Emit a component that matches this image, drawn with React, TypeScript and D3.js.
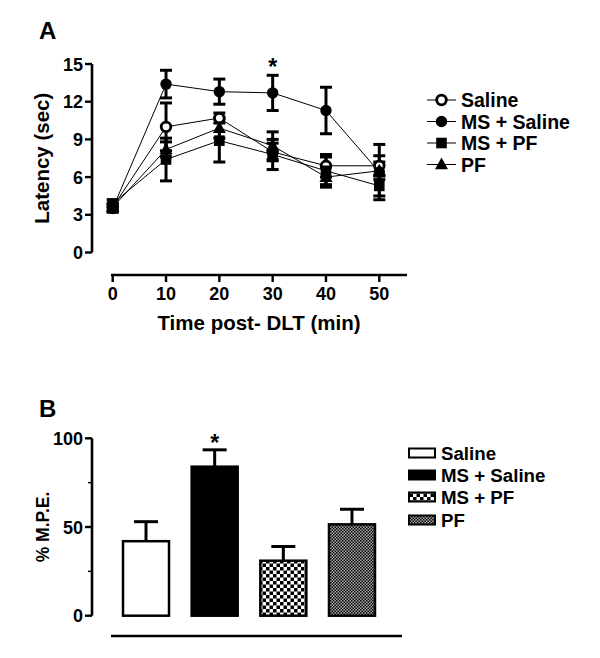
import React from "react";
import * as d3 from "d3";

const times = [0, 10, 20, 30, 40, 50];
const seriesNames = ["Saline", "MS + Saline", "MS + PF", "PF"];
const salineVals = [3.6, 10.0, 10.7, 8.0, 6.9, 6.9];
const salineErr = [0.3, 1.9, 0.4, 0.7, 0.9, 0.8];
const msSalineVals = [3.5, 13.4, 12.8, 12.7, 11.3, 6.4];
const msSalineErr = [0.3, 1.1, 1.0, 1.4, 1.85, 2.2];
const msPfVals = [3.9, 7.4, 8.9, 7.8, 6.5, 5.3];
const msPfErr = [0.3, 1.7, 1.7, 1.2, 1.1, 0.8];
const pfVals = [3.6, 8.2, 9.9, 8.5, 6.0, 6.5];
const pfErr = [0.3, 0.6, 0.8, 1.1, 0.8, 0.7];
const yTicksA = [0, 3, 6, 9, 12, 15];
const xTicksA = [0, 10, 20, 30, 40, 50];

const barGroups = ["Saline", "MS + Saline", "MS + PF", "PF"];
const mpeVals = [42, 84, 31, 51.5];
const mpeErr = [11, 9.5, 8, 8.5];
const yTicksB = [0, 50, 100];
const yMinorB = [25, 75];

const FONT = "'Liberation Sans', Arial, sans-serif";

const seriesA = [
  { name: seriesNames[0], vals: salineVals, err: salineErr, marker: "open" },
  { name: seriesNames[1], vals: msSalineVals, err: msSalineErr, marker: "circle" },
  { name: seriesNames[2], vals: msPfVals, err: msPfErr, marker: "square" },
  { name: seriesNames[3], vals: pfVals, err: pfErr, marker: "triangle" },
];

function Marker({ type, x, y }: { type: string; x: number; y: number }) {
  if (type === "open")
    return <circle cx={x} cy={y} r={4.8} fill="white" stroke="black" strokeWidth={2.8} />;
  if (type === "circle") return <circle cx={x} cy={y} r={5.7} fill="black" />;
  if (type === "square") return <rect x={x - 5.3} y={y - 5.3} width={10.6} height={10.6} fill="black" />;
  return <path d={`M${x},${y - 7}L${x + 6.5},${y + 4.8}L${x - 6.5},${y + 4.8}Z`} fill="black" />;
}

export default function App() {
  const xA = d3.scaleLinear().domain([0, 50]).range([112.7, 379.3]);
  const yA = d3.scaleLinear().domain([0, 15]).range([252.5, 64]);
  const line = d3
    .line<number>()
    .x((_, i) => xA(times[i]))
    .y((d) => yA(d));

  const xB = d3
    .scaleBand<string>()
    .domain(barGroups)
    .range([111, 387])
    .paddingInner(0.33)
    .paddingOuter(0.175);
  const yB = d3.scaleLinear().domain([0, 100]).range([615.7, 438.3]);

  const legendAY = [100, 121.5, 143, 164.5];
  const legendBY = [453, 475, 497, 520];
  const fills = ["white", "black", "url(#checker)", "url(#fine)"];

  return (
    <svg
      width={600}
      height={658}
      style={{ position: "absolute", left: 0, top: 0, background: "white" }}
      fontFamily={FONT}
      fontWeight="bold"
    >
      <defs>
        <pattern id="checker" width={7} height={7} patternUnits="userSpaceOnUse">
          <rect width={7} height={7} fill="white" />
          <rect width={3.5} height={3.5} fill="black" />
          <rect x={3.5} y={3.5} width={3.5} height={3.5} fill="black" />
        </pattern>
        <pattern id="fine" width={3} height={3} patternUnits="userSpaceOnUse">
          <rect width={3} height={3} fill="#aaa" />
          <rect width={1.5} height={1.5} fill="black" />
          <rect x={1.5} y={1.5} width={1.5} height={1.5} fill="black" />
        </pattern>
      </defs>

      {/* Panel A */}
      <text x={39} y={39} fontSize={24}>A</text>
      <line x1={92} x2={92} y1={yA(15)} y2={yA(0)} stroke="black" strokeWidth={2.6} />
      {yTicksA.map((t) => (
        <g key={t}>
          <line x1={85} x2={92} y1={yA(t)} y2={yA(t)} stroke="black" strokeWidth={2.4} />
          <text x={83} y={yA(t) + 6.5} fontSize={18} textAnchor="end">{t}</text>
        </g>
      ))}
      <text
        transform={`translate(49,${(yA(0) + yA(15)) / 2}) rotate(-90)`}
        fontSize={20.5}
        textAnchor="middle"
      >
        Latency (sec)
      </text>
      <line x1={111} x2={407} y1={275} y2={275} stroke="black" strokeWidth={2.6} />
      {xTicksA.map((t) => (
        <g key={t}>
          <line x1={xA(t)} x2={xA(t)} y1={275} y2={282} stroke="black" strokeWidth={2.4} />
          <text x={xA(t)} y={300} fontSize={18} textAnchor="middle">{t}</text>
        </g>
      ))}
      <text x={259} y={330} fontSize={20.5} textAnchor="middle">Time post- DLT (min)</text>

      {seriesA.map((s) => (
        <path key={s.name + "l"} d={line(s.vals) || ""} fill="none" stroke="black" strokeWidth={1} />
      ))}
      {seriesA.map((s) =>
        s.vals.map((v, i) => {
          const x = xA(times[i]);
          const y1 = yA(v + s.err[i]);
          const y2 = yA(v - s.err[i]);
          return (
            <g key={s.name + "e" + i} stroke="black" strokeWidth={3}>
              <line x1={x} x2={x} y1={y1} y2={y2} />
              <line x1={x - 6} x2={x + 6} y1={y1} y2={y1} />
              <line x1={x - 6} x2={x + 6} y1={y2} y2={y2} />
            </g>
          );
        })
      )}
      {seriesA.map((s) =>
        s.vals.map((v, i) => (
          <Marker key={s.name + "m" + i} type={s.marker} x={xA(times[i])} y={yA(v)} />
        ))
      )}
      <text x={xA(30)} y={yA(15) + 11} fontSize={23} textAnchor="middle">*</text>

      {seriesA.map((s, i) => (
        <g key={s.name + "leg"}>
          <line x1={427} x2={456} y1={legendAY[i]} y2={legendAY[i]} stroke="black" strokeWidth={1} />
          <Marker type={s.marker} x={441.5} y={legendAY[i]} />
          <text x={461} y={legendAY[i] + 7} fontSize={19.5}>{s.name}</text>
        </g>
      ))}

      {/* Panel B */}
      <text x={39} y={417} fontSize={24}>B</text>
      <line x1={92} x2={92} y1={yB(100)} y2={yB(0)} stroke="black" strokeWidth={2.6} />
      {yTicksB.map((t) => (
        <g key={t}>
          <line x1={85} x2={92} y1={yB(t)} y2={yB(t)} stroke="black" strokeWidth={2.4} />
          <text x={83} y={yB(t) + 6.5} fontSize={18} textAnchor="end">{t}</text>
        </g>
      ))}
      {yMinorB.map((t) => (
        <line key={t} x1={88} x2={92} y1={yB(t)} y2={yB(t)} stroke="black" strokeWidth={1.5} />
      ))}
      <text
        transform={`translate(49,${(yB(0) + yB(100)) / 2}) rotate(-90)`}
        fontSize={17.5}
        textAnchor="middle"
      >
        % M.P.E.
      </text>
      {barGroups.map((g, i) => {
        const x = xB(g) || 0;
        const w = xB.bandwidth();
        const cx = x + w / 2;
        const top = yB(mpeVals[i]);
        const et = yB(mpeVals[i] + mpeErr[i]);
        return (
          <g key={g}>
            <line x1={cx} x2={cx} y1={top} y2={et} stroke="black" strokeWidth={3} />
            <line x1={cx - 12} x2={cx + 12} y1={et} y2={et} stroke="black" strokeWidth={3} />
            <rect x={x} y={top} width={w} height={yB(0) - top} fill={fills[i]} stroke="black" strokeWidth={2.5} />
          </g>
        );
      })}
      <text x={(xB(barGroups[1]) || 0) + xB.bandwidth() / 2} y={yB(100) + 13} fontSize={23} textAnchor="middle">*</text>
      <line x1={111} x2={402} y1={636} y2={636} stroke="black" strokeWidth={2.6} />

      {barGroups.map((g, i) => (
        <g key={g + "leg"}>
          <rect x={409} y={legendBY[i] - 4.5} width={26} height={9} fill={fills[i]} stroke="black" strokeWidth={2} />
          <text x={441} y={legendBY[i] + 7} fontSize={18.7}>{g}</text>
        </g>
      ))}
    </svg>
  );
}
